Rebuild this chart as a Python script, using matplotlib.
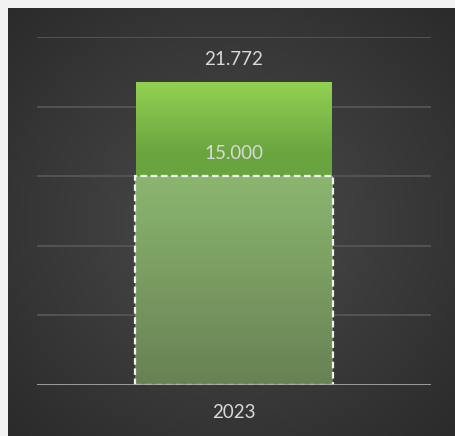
import numpy as np
import matplotlib
matplotlib.use('Agg')
import matplotlib.pyplot as plt
from matplotlib.colors import LinearSegmentedColormap

# data
categories = ['2023']
actual = [21.772]
target = [15.000]
y_ticks = [0, 5, 10, 15, 20, 25]

W, H = 455, 436
fig = plt.figure(figsize=(W / 100, H / 100), dpi=100, facecolor='#f2f2f2')

# dark panel with radial gradient
bg = fig.add_axes([8 / W, 0, (W - 8) / W, (H - 8) / H])
bg.set_axis_off()
yy, xx = np.mgrid[0:1:300j, 0:1:300j]
r = np.sqrt((xx - 0.5) ** 2 + (yy - 0.5) ** 2) / 0.72
bg_cmap = LinearSegmentedColormap.from_list('bg', ['#4b4b4b', '#2a2a2a'])
bg.imshow(r, cmap=bg_cmap, vmin=0, vmax=1, aspect='auto', extent=[0, 1, 0, 1])
bg.set_xlim(0, 1)
bg.set_ylim(0, 1)

# plot area
ax = fig.add_axes([37 / W, (H - 385) / H, (431 - 37) / W, (385 - 37) / H])
ax.patch.set_alpha(0)
for s in ax.spines.values():
    s.set_visible(False)
ax.set_yticks(y_ticks)
ax.tick_params(left=False, bottom=False, labelleft=False, labelbottom=False)
for t in y_ticks[1:]:
    ax.axhline(t, color='#565656', lw=1.3, zorder=1)
ax.axhline(0, color='#a6a6a6', lw=2, zorder=5)

x = np.arange(len(categories))
bw = 0.497

green = LinearSegmentedColormap.from_list('g', ['#69a43f', '#93d152'])
grey_green = LinearSegmentedColormap.from_list('gg', ['#688154', '#8bb66f'])

bars = ax.bar(x, actual, width=bw, color='none', zorder=2)
for b in bars:
    x0, y0, w, h = b.get_x(), b.get_y(), b.get_width(), b.get_height()
    yv = np.linspace(0, h, 256).reshape(-1, 1)
    # light green at the top fading to darker green just above the target
    im = ax.imshow(np.clip((yv - 16.5) / (h - 16.5), 0, 1), cmap=green,
                   extent=[x0, x0 + w, y0, y0 + h], origin='lower',
                   aspect='auto', zorder=2, vmin=0, vmax=1)
    im.set_clip_path(b)

tbars = ax.bar(x, target, width=bw * 1.01, color='none', edgecolor='#f2f2f2',
               linestyle=(0, (3, 1.6)), lw=1.6, zorder=4)
for b in tbars:
    grad = np.linspace(0, 1, 256).reshape(-1, 1)
    x0, y0, w, h = b.get_x(), b.get_y(), b.get_width(), b.get_height()
    im = ax.imshow(grad, cmap=grey_green, extent=[x0, x0 + w, y0, y0 + h],
                   origin='lower', aspect='auto', zorder=3)
    im.set_clip_path(b)

ax.set_xlim(-0.5, 0.5)
ax.set_ylim(0, 25)

txt = dict(color='#d9d9d9', fontsize=13.5, family='Lato', ha='center', va='center')
for xi, a, t in zip(x, actual, target):
    ax.text(xi, a + 1.6, f'{a:.3f}', **txt)
    ax.text(xi, t + 1.65, f'{t:.3f}', **txt)
    ax.text(xi, -2.0, categories[xi], clip_on=False, **txt)

fig.savefig('out.png', dpi=100, facecolor=fig.get_facecolor())
